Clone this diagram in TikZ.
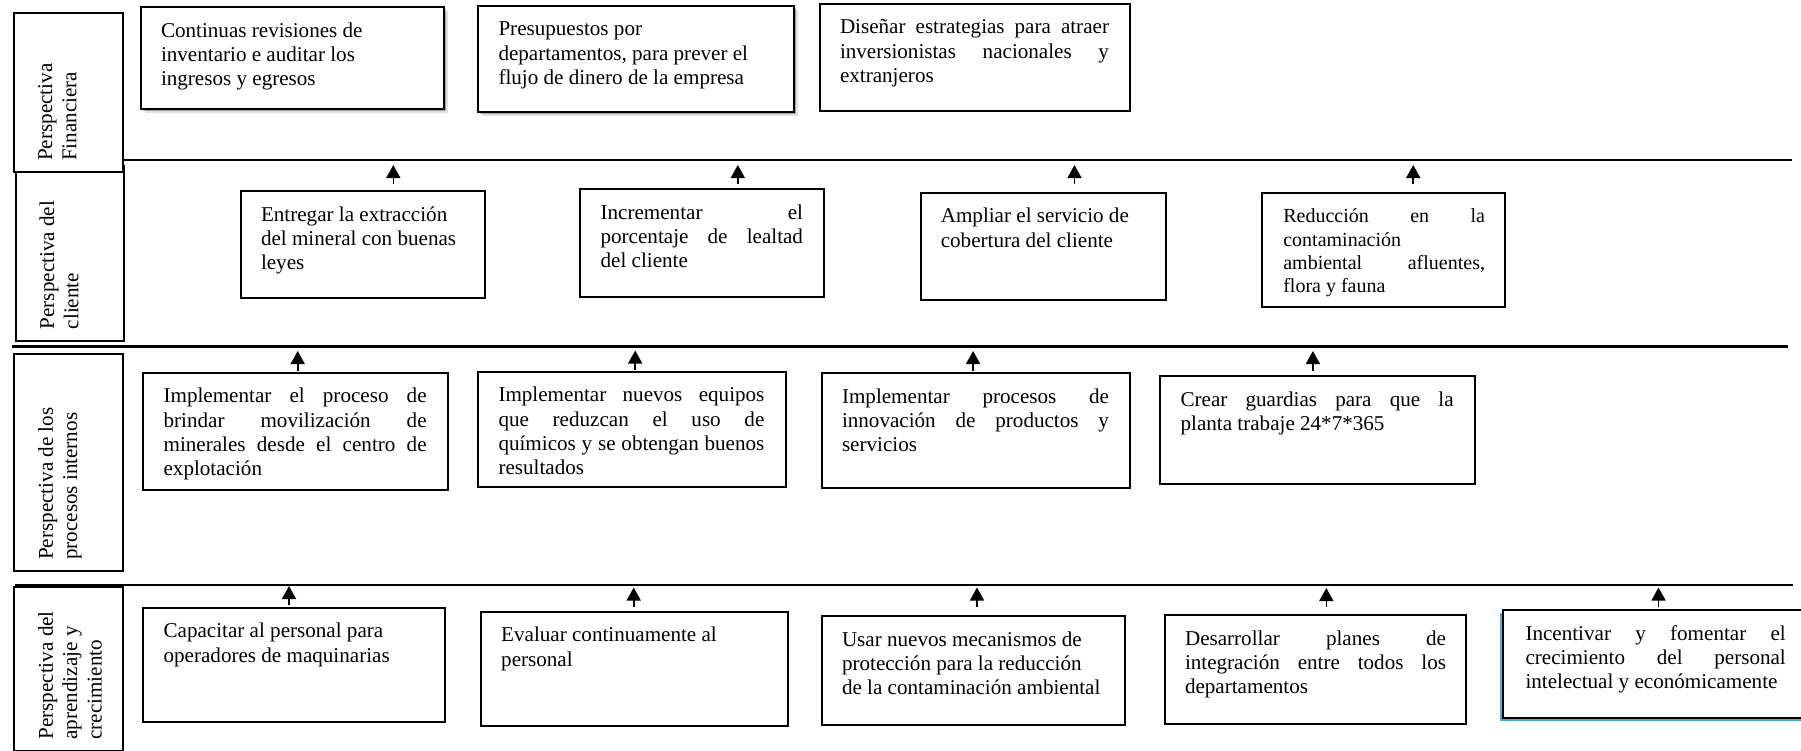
\documentclass[tikz,border=0pt]{standalone}
\usepackage{fontspec}
\setmainfont{Liberation Serif}
\usetikzlibrary{arrows.meta,shadows}
\definecolor{shblue}{RGB}{80,170,205}
\newcommand\jl[1]{\makebox[\linewidth][s]{#1}}
% text box: name, options, x1, y1, x2, y2, text-left, text-width, content
\newcommand\tb[9]{\node[bx,#2,anchor=north west] (#1) at (#3,#4)
 {\parbox[c][\dimexpr#6pt-#4pt\relax][t]{\dimexpr#5pt-#3pt\relax}{\rule{0pt}{30pt}\hspace*{\dimexpr#7pt-#3pt\relax}\parbox[t]{#8pt}{#9}}};}
% rotated label box: name, x1, y1, x2, y2, content
\newcommand\lb[6]{\node[bx,rotate=90,anchor=north west] (#1) at (#2,#5)
 {\parbox[c][\dimexpr#4pt-#2pt\relax][t]{\dimexpr#5pt-#3pt\relax}{\rule{0pt}{38.5pt}\hspace*{11.5pt}\parbox[t]{\dimexpr#5pt-#3pt-20pt\relax}{#6}}};}
\begin{document}
\begin{tikzpicture}[x=1pt,y=-1pt,
  bx/.style={draw,line width=2pt,fill=white,inner sep=0pt,font=\fontsize{21.1}{24.3}\selectfont},
  gshadow/.style={drop shadow={shadow xshift=2pt,shadow yshift=-2pt,fill=black,opacity=.28},
                  drop shadow={shadow xshift=4pt,shadow yshift=-4pt,fill=black,opacity=.12}},
  bshadow/.style={drop shadow={shadow xshift=-3pt,shadow yshift=-3pt,fill=shblue,opacity=1}},
  sepline/.style={line width=2.5pt},
  arr/.style={line width=1.6pt,-{Triangle[length=13pt,width=14pt]}}]
\useasboundingbox (0,0) rectangle (1801,750);

% separator lines
\coordinate (s1a) at (121.7,160);  \coordinate (s1b) at (1792,160);
\coordinate (s2a) at (11.7,346.6); \coordinate (s2b) at (1787.5,346.6);
\coordinate (s3a) at (15.3,585);   \coordinate (s3b) at (1793,585);
\draw[sepline] (s1a) -- (s1b);
\draw[sepline] (s2a) -- (s2b);
\draw[sepline] (s3a) -- (s3b);

% perspective labels
\lb{LC}{14.5}{166.7}{123.2}{341.7}{Perspectiva del\\cliente}
\lb{LF}{12.6}{14.3}{121.7}{173.3}{Perspectiva\\Financiera}
\lb{LP}{13.4}{355}{121.7}{572.3}{Perspectiva de los\\procesos internos}
\lb{LA}{13.4}{587.7}{121.7}{752}{Perspectiva del\\aprendizaje y\\crecimiento}

% financial
\tb{F1}{gshadow}{139.7}{6}{442.8}{108.3}{160}{270}{Continuas revisiones de\\inventario e auditar los\\ingresos y egresos}
\tb{F2}{gshadow}{477}{4.7}{793.3}{111}{497.5}{285}{Presupuestos por\\departamentos, para prever el\\flujo de dinero de la empresa}
\tb{F3}{}{819.3}{2.7}{1129.3}{110}{839}{269}{\jl{Diseñar estrategias para atraer}\\\jl{inversionistas nacionales y}\\extranjeros}

% client
\tb{C1}{}{240}{190}{484}{296.7}{260}{215}{Entregar la extracción\\del mineral con buenas\\leyes}
\tb{C2}{}{579}{188.3}{823}{295.7}{599.6}{202.4}{\jl{Incrementar el}\\\jl{porcentaje de lealtad}\\del cliente}
\tb{C3}{}{919.6}{191.7}{1164.5}{299}{939.8}{215}{Ampliar el servicio de\\cobertura del cliente}
\tb{C4}{font=\fontsize{20}{23.3}\selectfont}{1261.2}{191.7}{1504.3}{305.7}{1282.3}{201.7}{\jl{Reducción en la}\\contaminación\\\jl{ambiental afluentes,}\\flora y fauna}

% internal processes
\tb{P1}{}{141.6}{371.7}{447}{489}{162.6}{263}{\jl{Implementar el proceso de}\\\jl{brindar movilización de}\\\jl{minerales desde el centro de}\\explotación}
\tb{P2}{}{477.2}{370.7}{784.8}{485.7}{497.5}{265.9}{\jl{Implementar nuevos equipos}\\\jl{que reduzcan el uso de}\\\jl{químicos y se obtengan buenos}\\resultados}
\tb{P3}{}{821.2}{372.3}{1129.3}{487.3}{841}{267}{\jl{Implementar procesos de}\\\jl{innovación de productos y}\\servicios}
\tb{P4}{}{1158.7}{375}{1474.4}{482.7}{1179.6}{273}{\jl{Crear guardias para que la}\\planta trabaje 24*7*365}

% learning and growth
\tb{A1}{}{141.6}{606.7}{444}{720.7}{162.6}{275}{Capacitar al personal para\\operadores de maquinarias}
\tb{A2}{}{479.5}{610.7}{786.8}{725}{500.2}{280}{Evaluar continuamente al\\personal}
\tb{A3}{}{821.2}{615}{1123.5}{724}{841}{280}{Usar nuevos mecanismos de\\protección para la reducción\\de la contaminación ambiental}
\tb{A4}{}{1163.7}{614}{1465.2}{722.7}{1184}{261}{\jl{Desarrollar planes de}\\\jl{integración entre todos los}\\departamentos}
\tb{A5}{bshadow}{1502}{609.3}{1806}{717.3}{1524.5}{260.3}{\jl{Incentivar y fomentar el}\\\jl{crecimiento del personal}\\intelectual y económicamente}

% arrows
\foreach \x/\a/\b [count=\i] in {393.3/184/165, 737.8/184/165, 1074.5/184/165, 1413.2/184/165,
    297.7/370.5/351, 635.2/370/350.5, 973.1/370.5/351, 1312.9/370.5/351,
    289/604.5/586, 633.7/606.5/587.5, 977/606.5/587.5, 1326.3/607/588, 1658.5/607/587.5}{
  \coordinate (t\i) at (\x,\a);
  \coordinate (h\i) at (\x,\b);
  \draw[arr] (t\i) -- (h\i);
}
\end{tikzpicture}
\end{document}
